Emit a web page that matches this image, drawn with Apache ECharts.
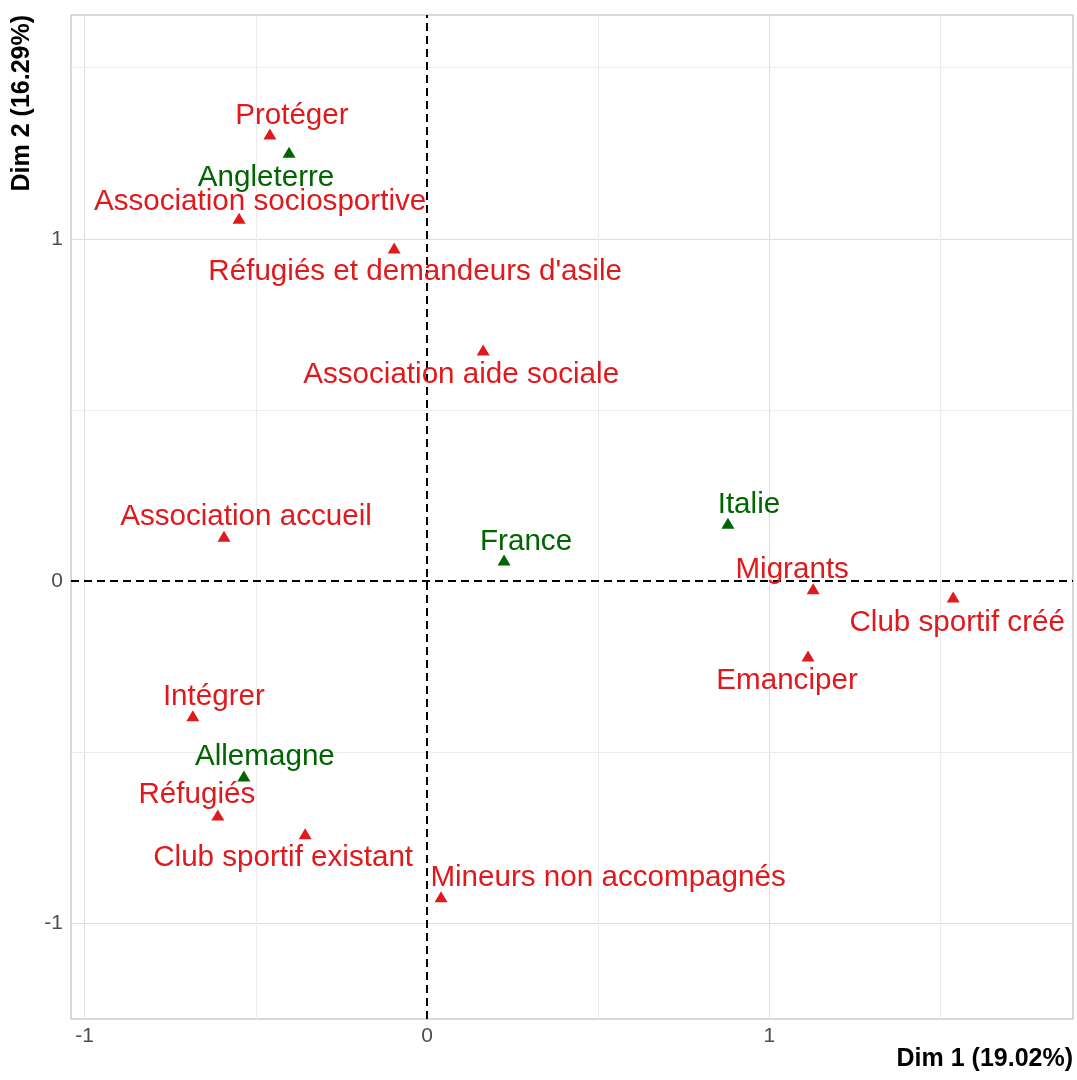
<!DOCTYPE html>
<html>
<head>
<meta charset="utf-8">
<script src="https://cdn.jsdelivr.net/npm/echarts@6/dist/echarts.min.js"></script>
<style>
html,body{margin:0;padding:0;background:#fff;}
#chart{width:1077px;height:1080px;}
</style>
</head>
<body>
<div id="chart"></div>
<script>
// ---- data ----
const varNames = ['Protéger','Association sociosportive',"Réfugiés et demandeurs d'asile",'Association aide sociale','Association accueil','Migrants','Club sportif créé','Emanciper','Intégrer','Réfugiés','Club sportif existant','Mineurs non accompagnés'];
const varX = [-0.459,-0.549,-0.096,0.164,-0.593,1.128,1.537,1.113,-0.684,-0.611,-0.356,0.041];
const varY = [1.306,1.060,0.973,0.675,0.131,-0.023,-0.047,-0.219,-0.394,-0.684,-0.739,-0.923];

const countryNames = ['Angleterre','France','Italie','Allemagne'];
const countryX = [-0.403,0.225,0.879,-0.535];
const countryY = [1.253,0.061,0.169,-0.570];

const xTicks = [-1,0,1];
const yTicks = [-1,0,1];
const xMinor = [-0.5,0.5,1.5];
const yMinor = [-0.5,0.5,1.5];
const xTitle = 'Dim 1 (19.02%)';
const yTitle = 'Dim 2 (16.29%)';

// label placement (pixel offsets of label centre from marker), layout only
const varLabelOffsets = [[22,-18],[21,-16],[21,24],[-22,25],[22,-19],[-21,-19],[4,26],[-21,25],[21,-19],[-21,-20],[-22,24],[167,-19]];
const countryLabelOffsets = [[-23,26],[22,-18],[21,-18],[21,-19]];

const RED = '#e0191c';
const GREEN = '#006400';
const FONT = 'Liberation Sans, Arial, sans-serif';
const SYM = [13,11];

function pts(names, xs, ys, offs){
  return names.map((n,i)=>({name:n, value:[xs[i], ys[i]],
    label:{position:[SYM[0]/2 + offs[i][0], SYM[1]/2 + offs[i][1]]}}));
}

const chart = echarts.init(document.getElementById('chart'), null, {renderer:'canvas'});

const gridLineData = [
  ...xTicks.filter(v=>v!==0).map(v=>({xAxis:v, lineStyle:{color:'#dedede', width:1, type:'solid'}})),
  ...yTicks.filter(v=>v!==0).map(v=>({yAxis:v, lineStyle:{color:'#dedede', width:1, type:'solid'}})),
  ...xMinor.map(v=>({xAxis:v, lineStyle:{color:'#ececec', width:1, type:'solid'}})),
  ...yMinor.map(v=>({yAxis:v, lineStyle:{color:'#ececec', width:1, type:'solid'}}))
];

function labelCfg(color){
  return {show:true, formatter:'{b}', color:color, fontSize:29.6, fontFamily:FONT,
    align:'center', verticalAlign:'middle', opacity:1, textBorderWidth:0, textBorderColor:'transparent'};
}

const option = {
  animation:false,
  backgroundColor:'#ffffff',
  textStyle:{fontFamily:FONT},
  grid:{left:71, right:4, top:15, bottom:61, containLabel:false, outerBoundsMode:'none',
        show:true, borderColor:'#b3b3b3', borderWidth:1, backgroundColor:'transparent'},
  xAxis:{type:'value', min:-1.04, max:1.887,
    axisLine:{show:false}, splitLine:{show:false},
    axisTick:{show:true, customValues:xTicks, length:5, lineStyle:{color:'#b3b3b3'}},
    axisLabel:{customValues:xTicks, color:'#4d4d4d', fontSize:21, margin:7, fontFamily:FONT}},
  yAxis:{type:'value', min:-1.28, max:1.654,
    axisLine:{show:false}, splitLine:{show:false},
    axisTick:{show:true, customValues:yTicks, length:5, lineStyle:{color:'#b3b3b3'}},
    axisLabel:{customValues:yTicks, color:'#4d4d4d', fontSize:21, margin:8, fontFamily:FONT}},
  graphic:[
    {type:'text', right:4, top:1047, style:{text:xTitle, font:'bold 25px '+FONT, fill:'#000'}},
    {type:'text', x:22, y:15, rotation:Math.PI/2,
      style:{text:yTitle, font:'bold 25px '+FONT, fill:'#000', align:'right', verticalAlign:'middle'}}
  ],
  series:[
    {type:'line', data:[], z:1, silent:true,
      markLine:{z:1, silent:true, symbol:'none', label:{show:false}, animation:false, data:gridLineData}},
    {type:'line', data:[], z:2, silent:true,
      markLine:{z:2, silent:true, symbol:'none', label:{show:false}, animation:false,
        lineStyle:{color:'#000', width:2, type:[8,5]},
        data:[{xAxis:0},{yAxis:0}]}},
    {type:'scatter', name:'variables', z:10, symbol:'triangle', symbolSize:SYM,
      itemStyle:{color:RED, opacity:1},
      label:labelCfg(RED),
      labelLayout:{hideOverlap:false},
      emphasis:{disabled:true},
      data:pts(varNames, varX, varY, varLabelOffsets)},
    {type:'scatter', name:'pays', z:10, symbol:'triangle', symbolSize:SYM,
      itemStyle:{color:GREEN, opacity:1},
      label:labelCfg(GREEN),
      labelLayout:{hideOverlap:false},
      emphasis:{disabled:true},
      data:pts(countryNames, countryX, countryY, countryLabelOffsets)}
  ]
};
chart.setOption(option);
</script>
</body>
</html>
